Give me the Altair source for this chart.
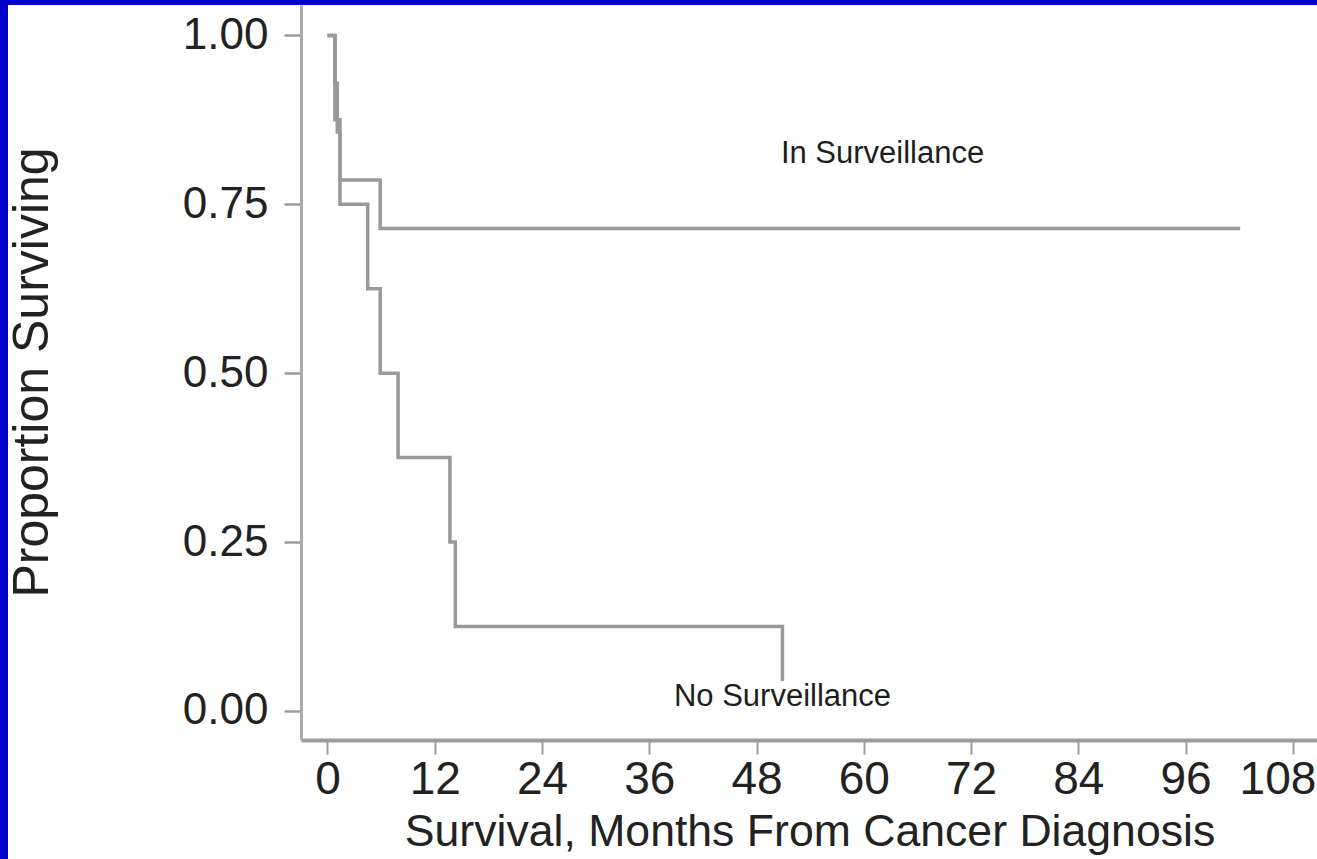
import altair as alt
import pandas as pd

# ---- data ----
ns_months = [0.0, 0.84, 1.4, 4.5, 5.9, 7.9, 13.7, 14.3, 50.9]
ns_surv = [1.0, 0.875, 0.75, 0.625, 0.5, 0.375, 0.25, 0.125, 0.0]

is_months = [0.0, 0.84, 1.1, 1.4, 5.9, 102.1]
is_surv = [1.0, 0.929, 0.857, 0.786, 0.714, 0.714]

label_text = ["In Surveillance", "No Surveillance"]
label_month = [62.1, 50.9]
label_surv = [0.825, 0.02]

x_ticks = [0, 12, 24, 36, 48, 60, 72, 84, 96, 108]
y_ticks = [0.0, 0.25, 0.5, 0.75, 1.0]

rows = []
for i, (m, s) in enumerate(zip(ns_months, ns_surv)):
    rows.append({"group": "No Surveillance", "month": m, "surv": s, "ord": i})
for i, (m, s) in enumerate(zip(is_months, is_surv)):
    rows.append({"group": "In Surveillance", "month": m, "surv": s, "ord": i})
curves = pd.DataFrame(rows)
labels = pd.DataFrame({"text": label_text, "month": label_month, "surv": label_surv})

W, H = 1016, 735
PAD_L, PAD_T = 301, 5

x_scale = alt.Scale(domain=[-2.96, 110.7], nice=False, zero=False)
y_scale = alt.Scale(domain=[-0.043, 1.045], nice=False, zero=False)

x_axis = alt.Axis(
    values=x_ticks, grid=False, title="Survival, Months From Cancer Diagnosis",
    domainColor="#9c9c9c", domainWidth=4, tickColor="#9c9c9c", tickWidth=2, tickSize=14,
    labelFont="Liberation Sans", labelFontSize=46, labelColor="#222222",
    labelPadding=3, labelFlush=25, labelFlushOffset=23, labelOverlap=False,
    titleFont="Liberation Sans", titleFontSize=44.6, titleFontWeight="normal",
    titleColor="#222222", titleX=508.5, titleY=105, titleAlign="center",
    titleBaseline="alphabetic",
)
y_axis = alt.Axis(
    values=y_ticks, format=".2f", grid=False, title="Proportion Surviving",
    domainColor="#ababab", domainWidth=3, tickColor="#9c9c9c", tickWidth=2.5, tickSize=17,
    labelFont="Liberation Sans", labelFontSize=44, labelColor="#222222",
    labelPadding=16, labelFlush=False, labelOverlap=False,
    titleFont="Liberation Sans", titleFontSize=50, titleFontWeight="normal",
    titleColor="#222222", titleX=32 - PAD_L, titleY=372 - PAD_T, titleAngle=270,
    titleAlign="center", titleBaseline="middle",
)

lines = alt.Chart(curves).mark_line(
    interpolate="step-after", strokeWidth=3.5, color="#999999"
).encode(
    x=alt.X("month:Q", scale=x_scale, axis=x_axis),
    y=alt.Y("surv:Q", scale=y_scale, axis=y_axis),
    detail="group:N",
    order="ord:Q",
)

halo = alt.Chart(labels).mark_text(
    font="Liberation Sans", fontSize=31, color="white", stroke="white", strokeWidth=16,
    align="center", baseline="middle"
).encode(
    x=alt.X("month:Q", scale=x_scale),
    y=alt.Y("surv:Q", scale=y_scale),
    text="text:N",
)

texts = alt.Chart(labels).mark_text(
    font="Liberation Sans", fontSize=31, color="#1e1e1e", align="center", baseline="middle"
).encode(
    x=alt.X("month:Q", scale=x_scale),
    y=alt.Y("surv:Q", scale=y_scale),
    text="text:N",
)

one = alt.Data(values=[{"k": 1}])
left_band = alt.Chart(one).mark_rect(color="#0000cc").encode(
    x=alt.value(-PAD_L), x2=alt.value(-PAD_L + 8), y=alt.value(-PAD_T), y2=alt.value(859 - PAD_T)
)
top_band = alt.Chart(one).mark_rect(color="#0000cc").encode(
    x=alt.value(-PAD_L), x2=alt.value(W), y=alt.value(-PAD_T), y2=alt.value(0)
)

chart = alt.layer(lines, halo, texts, left_band, top_band).properties(
    width=W, height=H,
    padding={"left": PAD_L, "top": PAD_T, "right": 1317 - PAD_L - W, "bottom": 859 - PAD_T - H},
    autosize=alt.AutoSizeParams(type="none"),
    background="white",
).configure_view(stroke=None)

chart.save("out.html", embed_options={"renderer": "svg", "actions": False})
